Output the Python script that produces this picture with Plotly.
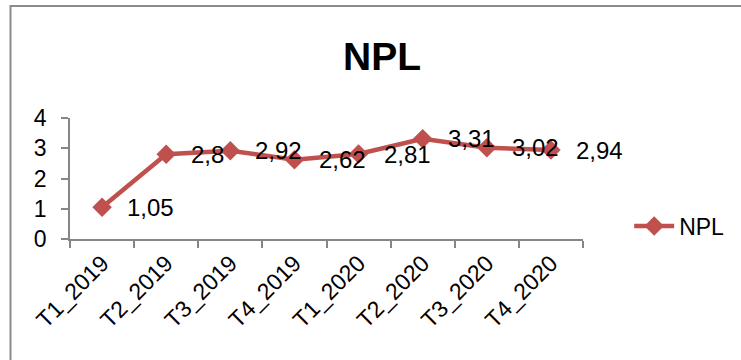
import plotly.graph_objects as go

# Quarterly NPL ratio (%)
quarters = ["T1_2019", "T2_2019", "T3_2019", "T4_2019",
            "T1_2020", "T2_2020", "T3_2020", "T4_2020"]
npl = [1.05, 2.8, 2.92, 2.62, 2.81, 3.31, 3.02, 2.94]
y_ticks = [0, 1, 2, 3, 4]

RED = "#C0504D"
AXIS = "#868686"
FONT = "Liberation Sans"

fig = go.Figure()
fig.add_trace(go.Scatter(
    x=quarters, y=npl, mode="lines+markers", name="NPL",
    line=dict(color=RED, width=4.5),
    marker=dict(symbol="diamond", size=15, color=RED),
))

# Value labels to the right of each point, decimal comma
for q, v in zip(quarters, npl):
    fig.add_annotation(
        x=q, y=v, text=f"{v:g}".replace(".", ","), showarrow=False,
        xanchor="left", yanchor="middle", xshift=23,
        font=dict(family=FONT, size=24, color="#000000"),
    )

# Outer chart frame
fig.add_shape(type="rect", xref="paper", yref="paper",
              x0=-0.116, x1=2.0, y0=-2.0, y1=1.926,
              line=dict(color="#8C8C8C", width=2), layer="below")

fig.update_layout(
    width=741, height=360,
    margin=dict(l=70, r=154, t=118, b=121),
    paper_bgcolor="white", plot_bgcolor="white",
    font=dict(family=FONT, size=23, color="#000000"),
    title=dict(text="<b>NPL</b>", x=382 / 741, xanchor="center",
               y=1 - 56 / 360, yanchor="middle",
               font=dict(family=FONT, size=39, color="#000000")),
    showlegend=True,
    legend=dict(x=1.09, y=0.107, xanchor="left", yanchor="middle",
                bgcolor="rgba(0,0,0,0)", font=dict(family=FONT, size=23),
                itemwidth=40),
    xaxis=dict(type="category", categoryorder="array", categoryarray=quarters,
               range=[-0.5, 7.5], tickson="boundaries", showgrid=False,
               showline=True, linecolor=AXIS, linewidth=1.5,
               ticks="outside", ticklen=7, tickcolor=AXIS, tickwidth=1.5,
               tickangle=-45, zeroline=False,
               tickfont=dict(family=FONT, size=23)),
    yaxis=dict(range=[0, 4], tickvals=y_ticks, showgrid=False,
               showline=True, linecolor=AXIS, linewidth=1.5,
               ticks="outside", ticklen=7, tickcolor=AXIS, tickwidth=1.5,
               zeroline=False, ticklabelstandoff=10,
               tickfont=dict(family=FONT, size=23)),
)

fig.write_html("out.html")
